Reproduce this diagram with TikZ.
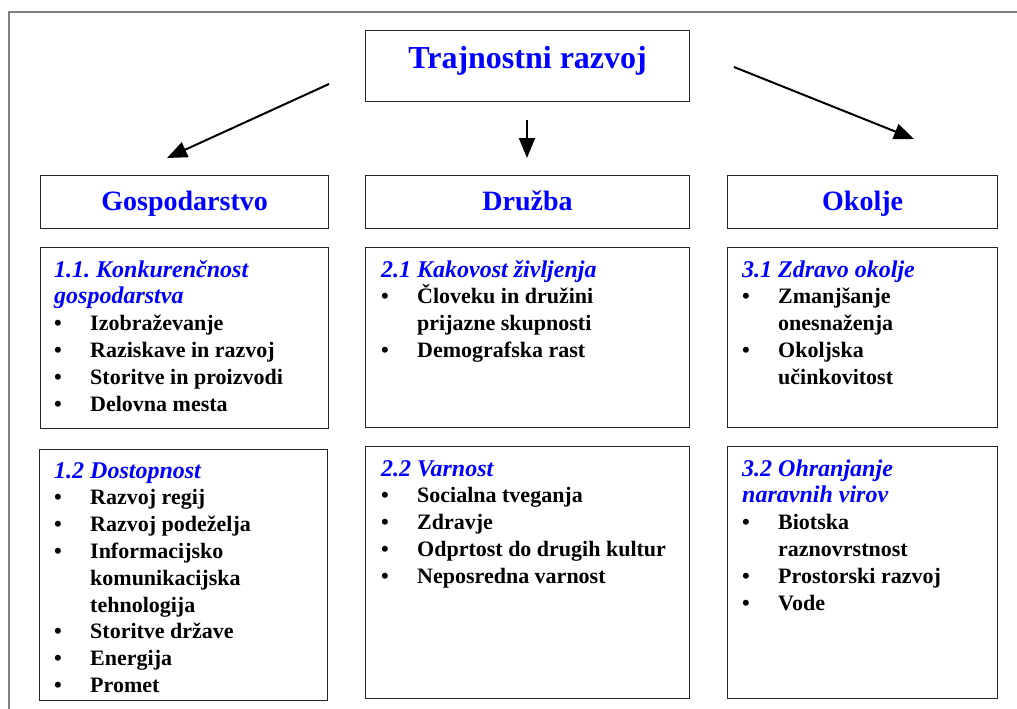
\documentclass[tikz,border=0pt]{standalone}
\usepackage{fontspec}
\setmainfont{Liberation Serif}
\usetikzlibrary{arrows.meta,calc}
\definecolor{hblue}{RGB}{0,0,255}
\definecolor{framegray}{RGB}{128,128,128}
\frenchspacing
\newcommand{\hd}[1]{{\fontsize{24}{26.8}\selectfont\bfseries\itshape\noindent\color{hblue}#1\par}}
\newcommand{\itm}[1]{{\fontsize{22}{26.8}\selectfont\bfseries\hangindent=36pt\hangafter=1\noindent\makebox[36pt][l]{•}#1\par}}
\newcommand{\cbox}[1]{\parbox[t]{300pt}{\frenchspacing\lineskiplimit=-50pt\lineskip=0pt #1}}
\tikzset{
  box/.style={draw=black!85, line width=1.2pt, inner sep=0pt, anchor=north west},
  hdr/.style={box, text=hblue, font=\fontsize{28}{32}\selectfont\bfseries, text height=22pt, text depth=5pt},
  ttl/.style={box, text=hblue, font=\fontsize{32}{36}\selectfont\bfseries, text height=24pt, text depth=18.5pt},
  txt/.style={anchor=base west, inner sep=0pt},
  arr/.style={line width=2pt, -{Triangle[length=20pt, width=16pt]}}
}
\begin{document}
\begin{tikzpicture}[x=1pt, y=-1pt]
\useasboundingbox (0,0) rectangle (1017,709);
% outer frame (partial)
\draw[framegray, line width=1.5pt] (9,709) -- (9,12) -- (1017,12);

% title
\node[ttl, minimum width=324pt, minimum height=71pt] (T) at (365,30) {Trajnostni razvoj};

% headers
\node[hdr, minimum width=288pt, minimum height=53pt] (G) at (40,175) {Gospodarstvo};
\node[hdr, minimum width=324pt, minimum height=53pt] (D) at (365,175) {Družba};
\node[hdr, minimum width=270pt, minimum height=53pt] (O) at (727,175) {Okolje};

% arrows
\coordinate (a1s) at (329,84);  \coordinate (a1e) at (167,158);
\coordinate (a2s) at (527,120); \coordinate (a2e) at (527,158);
\coordinate (a3s) at (734,67);  \coordinate (a3e) at (914,139);
\draw[arr] (a1s) -- (a1e);
\draw[arr] (a2s) -- (a2e);
\draw[arr] (a3s) -- (a3e);

% content boxes
\node[box, minimum width=288pt, minimum height=181pt] (b11) at (40,247) {};
\node[box, minimum width=324pt, minimum height=180pt] (b21) at (365,247) {};
\node[box, minimum width=270pt, minimum height=180pt] (b31) at (727,247) {};
\node[box, minimum width=288pt, minimum height=251pt] (b12) at (39,449) {};
\node[box, minimum width=324pt, minimum height=252pt] (b22) at (365,446) {};
\node[box, minimum width=270pt, minimum height=252pt] (b32) at (727,446) {};

\node[txt] (c11) at ($(b11.north west)+(14,30)$) {\cbox{%
  \hd{1.1. Konkurenčnost\\gospodarstva}%
  \itm{Izobraževanje}%
  \itm{Raziskave in razvoj}%
  \itm{Storitve in proizvodi}%
  \itm{Delovna mesta}}};

\node[txt] (c12) at ($(b12.north west)+(15,29)$) {\cbox{%
  \hd{1.2 Dostopnost}%
  \itm{Razvoj regij}%
  \itm{Razvoj podeželja}%
  \itm{Informacijsko\\komunikacijska\\tehnologija}%
  \itm{Storitve države}%
  \itm{Energija}%
  \itm{Promet}}};

\node[txt] (c21) at ($(b21.north west)+(16,30)$) {\cbox{%
  \hd{2.1 Kakovost življenja}%
  \itm{Človeku in družini\\prijazne skupnosti}%
  \itm{Demografska rast}}};

\node[txt] (c22) at ($(b22.north west)+(16,30)$) {\cbox{%
  \hd{2.2 Varnost}%
  \itm{Socialna tveganja}%
  \itm{Zdravje}%
  \itm{Odprtost do drugih kultur}%
  \itm{Neposredna varnost}}};

\node[txt] (c31) at ($(b31.north west)+(15,30)$) {\cbox{%
  \hd{3.1 Zdravo okolje}%
  \itm{Zmanjšanje\\onesnaženja}%
  \itm{Okoljska\\učinkovitost}}};

\node[txt] (c32) at ($(b32.north west)+(15,30)$) {\cbox{%
  \hd{3.2 Ohranjanje\\naravnih virov}%
  \itm{Biotska\\raznovrstnost}%
  \itm{Prostorski razvoj}%
  \itm{Vode}}};
\end{tikzpicture}
\end{document}
